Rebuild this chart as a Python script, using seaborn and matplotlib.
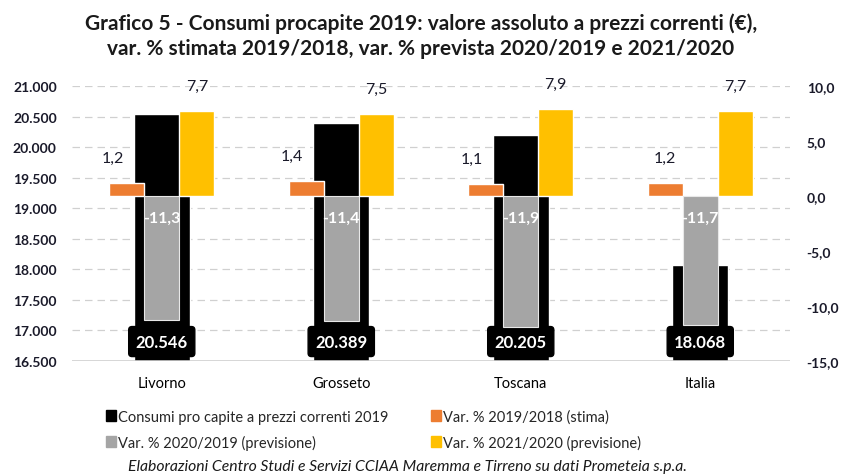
import matplotlib
matplotlib.use("Agg")
import matplotlib.pyplot as plt
from matplotlib.patches import Patch
import seaborn as sns
import pandas as pd

categories = ["Livorno", "Grosseto", "Toscana", "Italia"]
consumi_2019 = [20546, 20389, 20205, 18068]
var_2019_2018 = [1.2, 1.4, 1.1, 1.2]
var_2020_2019 = [-11.3, -11.4, -11.9, -11.7]
var_2021_2020 = [7.7, 7.5, 7.9, 7.7]

series_names = ["Var. % 2019/2018 (stima)", "Var. % 2020/2019 (previsione)", "Var. % 2021/2020 (previsione)"]
black_name = "Consumi pro capite a prezzi correnti 2019"
colors = {series_names[0]: "#ED7D31", series_names[1]: "#A5A5A5", series_names[2]: "#FFC000"}

left_ticks = list(range(16500, 21001, 500))
right_ticks = [-15, -10, -5, 0, 5, 10]

sns.set_theme(style="white")
FONT = ["Lato", "DejaVu Sans"]
plt.rcParams["font.family"] = FONT

df_black = pd.DataFrame({"cat": categories, "val": consumi_2019})
df_var = pd.DataFrame({
    "cat": categories * 3,
    "serie": [s for s in series_names for _ in categories],
    "val": var_2019_2018 + var_2020_2019 + var_2021_2020,
})

fig = plt.figure(figsize=(8.45, 4.77), dpi=100)
ax = fig.add_axes([72 / 845, 1 - 362 / 477, 718 / 845, 275 / 477])
ax2 = ax.twinx()

sns.barplot(data=df_black, x="cat", y="val", color="black", width=0.31,
            saturation=1, ax=ax, zorder=2)
ax.set_ylim(16500, 21000)
ax.set_yticks(left_ticks)
ax.set_yticklabels([f"{v:,}".replace(",", ".") for v in left_ticks])
for y in left_ticks[1:]:
    ax.axhline(y, color="#D0D0D0", lw=0.9, ls=(0, (6, 4)), zorder=0)
ax.axhline(16500, color="#D0D0D0", lw=1.2, zorder=3)
ax.set_xlabel("")
ax.set_ylabel("")
for s in ax.spines.values():
    s.set_visible(False)

sns.barplot(data=df_var, x="cat", y="val", hue="serie", palette=colors,
            width=0.585, saturation=1, ax=ax2, legend=False, zorder=3)
ax2.set_ylim(-15, 10)
ax2.set_yticks(right_ticks)
ax2.set_yticklabels([f"{v:.1f}".replace(".", ",") for v in right_ticks])
ax2.set_ylabel("")
for s in ax2.spines.values():
    s.set_visible(False)
for p in ax2.patches:
    if p.get_facecolor()[:3] == matplotlib.colors.to_rgb("#A5A5A5"):
        p.set_edgecolor("#E8E8E8")
        p.set_linewidth(0.8)

for a in (ax, ax2):
    a.tick_params(axis="y", length=0, labelsize=10, labelcolor="#1a1a2a")
for lab in ax.get_yticklabels() + ax2.get_yticklabels():
    lab.set_fontweight("bold")
ax.tick_params(axis="y", pad=11)
ax2.tick_params(axis="y", pad=12)
ax.tick_params(axis="x", length=0, labelsize=10.5, pad=11)
for lab in ax.get_xticklabels():
    lab.set_color("black")

# data labels
bars_black = ax.containers[0]
for rect, v in zip(bars_black, consumi_2019):
    cx = rect.get_x() + rect.get_width() / 2
    ax.annotate(f"{v:,}".replace(",", "."), (cx, 16500), xytext=(0, 14),
                textcoords="offset points", ha="center", va="center",
                color="white", fontsize=12, fontweight="bold", zorder=6,
                bbox=dict(boxstyle="round,pad=0.42,rounding_size=0.2",
                          fc="black", ec="black"))

# horizontal nudge (points) of the orange labels, away from the black bars
orange_label_dx = [-10, -10, -10, 0]
for k, (cont, vals) in enumerate(zip(ax2.containers, [var_2019_2018, var_2020_2019, var_2021_2020])):
    for i, (rect, v) in enumerate(zip(cont, vals)):
        cx = rect.get_x() + rect.get_width() / 2
        txt = f"{v:.1f}".replace(".", ",")
        if v > 0:
            dx = orange_label_dx[i] if k == 0 else 0
            ax2.annotate(txt, (cx, v), xytext=(dx, 18), textcoords="offset points",
                         ha="center", va="center", fontsize=11.5, color="#1a1a2a")
        else:
            ax2.annotate(txt, (cx, 0), xytext=(0, -16), textcoords="offset points",
                         ha="center", va="center", fontsize=11.5, color="white",
                         fontweight="bold")

fig.text(0.498, 1 - 36 / 477, "Grafico 5 - Consumi procapite 2019: valore assoluto a prezzi correnti (€),\n"
         "var. % stimata 2019/2018, var. % prevista 2020/2019 e 2021/2020",
         ha="center", va="center", fontsize=15, fontweight="bold", color="#1a1a1a",
         linespacing=1.3)

handles = [Patch(color="black", label=black_name),
           Patch(color=colors[series_names[1]], label=series_names[1]),
           Patch(color=colors[series_names[0]], label=series_names[0]),
           Patch(color=colors[series_names[2]], label=series_names[2])]
fig.legend(handles=handles, ncol=2, loc="upper left",
           bbox_to_anchor=(96 / 845, 1 - 400 / 477), frameon=False, fontsize=10.5,
           handlelength=0.65, handleheight=0.85, handletextpad=0.15,
           columnspacing=2.95, labelspacing=0.75, borderpad=0.2)

fig.text(0.482, 1 - 467 / 477,
         "Elaborazioni Centro Studi e Servizi CCIAA Maremma e Tirreno su dati Prometeia s.p.a.",
         ha="center", va="center", fontsize=11.3, style="italic", color="#1a1a1a")

fig.savefig("out.png", dpi=100)
